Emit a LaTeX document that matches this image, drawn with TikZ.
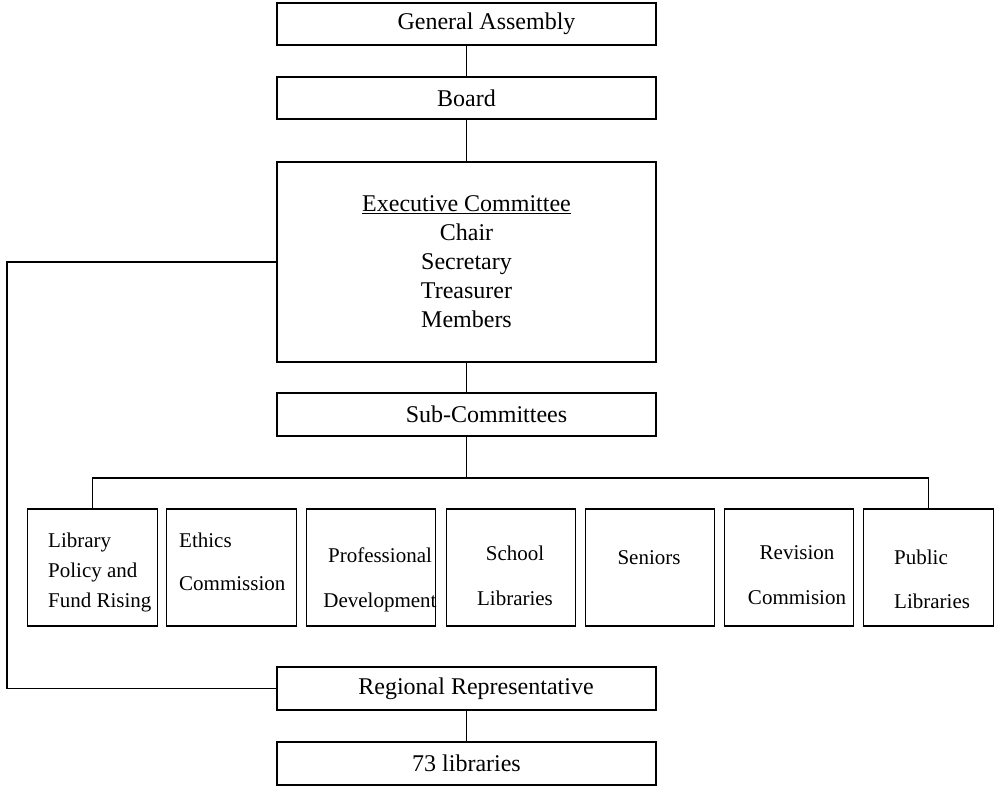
\documentclass[tikz,border=0pt]{standalone}
\usepackage{fontspec}
\setmainfont{Liberation Serif}
\begin{document}
\begin{tikzpicture}[x=1pt,y=-1pt,
  box/.style={draw=black,line width=1.1pt,rectangle,inner sep=0pt,minimum width=379pt,minimum height=42pt,font=\fontsize{24}{29}\selectfont,align=center},
  subbox/.style={draw=black,line width=1.1pt,rectangle,inner sep=0pt,minimum width=129.5pt,minimum height=117pt},
  subtxt/.style={inner sep=0pt,font=\fontsize{21}{30}\selectfont},
  conn/.style={draw=black,line width=1.1pt}]
\useasboundingbox (0,0) rectangle (994,787);
\node[box] (ga) at (466.5,24) {\hspace*{40pt}General Assembly};
\node[box] (board) at (466.5,98) {Board};
\node[box,minimum height=200pt] (exec) at (466.5,262) {\underline{Executive Committee}\\Chair\\Secretary\\Treasurer\\Members};
\node[box,minimum height=43pt] (sub) at (466.5,414.5) {\hspace*{40pt}Sub-Committees};
\node[box,minimum height=43pt] (reg) at (466.5,688.5) {\hspace*{19pt}Regional Representative};
\node[box,minimum height=43pt] (libs) at (466.5,763.5) {73 libraries};
% sub-committee boxes
\node[subbox] (s1) at (92.5,567.5) {};
\node[subbox] (s2) at (231.5,567.5) {};
\node[subbox] (s3) at (371,567.5) {};
\node[subbox] (s4) at (511,567.5) {};
\node[subbox] (s5) at (650,567.5) {};
\node[subbox] (s6) at (789,567.5) {};
\node[subbox] (s7) at (928.5,567.5) {};
\node[subtxt,anchor=west,align=left] (t1) at (48,572) {Library\\Policy and\\Fund Rising};
\node[subtxt,anchor=west,align=left,font=\fontsize{21}{43}\selectfont] (t2) at (179,561.5) {Ethics\\Commission};
\node[subtxt,align=center,font=\fontsize{21}{45}\selectfont] (t3) at (380,579.5) {Professional\\Development};
\node[subtxt,align=center,font=\fontsize{21}{45}\selectfont] (t4) at (515,575.5) {School\\Libraries};
\node[subtxt] (t5) at (649,558) {Seniors};
\node[subtxt,align=center,font=\fontsize{21}{45}\selectfont] (t6) at (797,575.5) {Revision\\Commision};
\node[subtxt,anchor=west,align=left,font=\fontsize{21}{44}\selectfont] (t7) at (894,579) {Public\\Libraries};
% connectors
\coordinate (bus) at (466.5,478);
\coordinate (lft) at (7,0);
\draw[conn] (ga.south) -- (board.north);
\draw[conn] (board.south) -- (exec.north);
\draw[conn] (exec.south) -- (sub.north);
\draw[conn] (sub.south) -- (bus);
\draw[conn] (s1.north) |- (bus) -| (s7.north);
\draw[conn] (exec.west) -- (exec.west -| lft) |- (reg.west);
\draw[conn] (reg.south) -- (libs.north);
\end{tikzpicture}
\end{document}
